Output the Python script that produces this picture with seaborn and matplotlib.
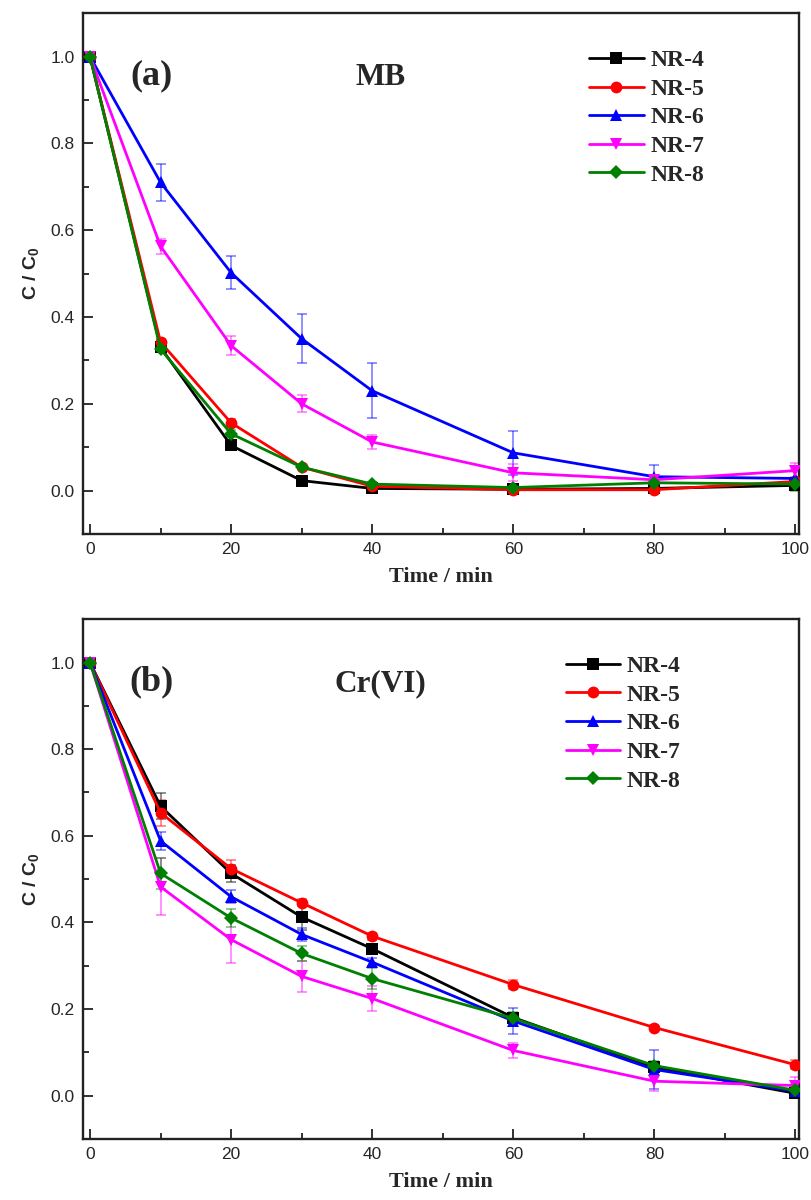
import numpy as np
import pandas as pd
import matplotlib
matplotlib.use("Agg")
import matplotlib.pyplot as plt
from matplotlib.ticker import MultipleLocator
import seaborn as sns

sns.set_theme(style="ticks")
plt.rcParams['font.family'] = ['Liberation Sans', 'DejaVu Sans']
plt.rcParams['mathtext.default'] = 'regular'

# время отбора проб, мин
time = [0, 10, 20, 30, 40, 60, 80, 100]
samples = ['NR-4', 'NR-5', 'NR-6', 'NR-7', 'NR-8']

# (a) MB, C/C0
mb_nr4 = [1.0, 0.330, 0.104, 0.023, 0.005, 0.003, 0.005, 0.012]
mb_nr5 = [1.0, 0.342, 0.156, 0.054, 0.010, 0.002, 0.002, 0.021]
mb_nr6 = [1.0, 0.710, 0.502, 0.350, 0.230, 0.087, 0.032, 0.028]
mb_nr7 = [1.0, 0.563, 0.334, 0.200, 0.112, 0.041, 0.025, 0.046]
mb_nr8 = [1.0, 0.326, 0.131, 0.054, 0.015, 0.007, 0.018, 0.015]
# погрешности MB
mb_err4 = [0, 0.005, 0.008, 0.005, 0.004, 0.003, 0.003, 0.010]
mb_err5 = [0, 0.008, 0.008, 0.005, 0.004, 0.003, 0.003, 0.010]
mb_err6 = [0, 0.043, 0.038, 0.057, 0.063, 0.050, 0.027, 0.020]
mb_err7 = [0, 0.017, 0.022, 0.020, 0.015, 0.020, 0.005, 0.018]
mb_err8 = [0, 0.005, 0.008, 0.005, 0.004, 0.003, 0.003, 0.015]

# (b) Cr(VI), C/C0
cr_nr4 = [1.0, 0.668, 0.513, 0.412, 0.339, 0.180, 0.065, 0.005]
cr_nr5 = [1.0, 0.653, 0.524, 0.445, 0.368, 0.256, 0.157, 0.071]
cr_nr6 = [1.0, 0.588, 0.459, 0.372, 0.308, 0.172, 0.060, 0.010]
cr_nr7 = [1.0, 0.482, 0.360, 0.275, 0.224, 0.104, 0.033, 0.023]
cr_nr8 = [1.0, 0.513, 0.410, 0.328, 0.270, 0.178, 0.069, 0.012]
# погрешности Cr(VI)
cr_err4 = [0, 0.030, 0.020, 0.030, 0.010, 0.010, 0.010, 0.005]
cr_err5 = [0, 0.030, 0.020, 0.008, 0.008, 0.010, 0.005, 0.010]
cr_err6 = [0, 0.020, 0.015, 0.015, 0.010, 0.030, 0.045, 0.010]
cr_err7 = [0, 0.066, 0.055, 0.036, 0.030, 0.017, 0.022, 0.020]
cr_err8 = [0, 0.035, 0.020, 0.018, 0.025, 0.015, 0.010, 0.010]

colors = ['black', '#FF0000', '#0000FF', '#FF00FF', '#008000']
markers = ['s', 'o', '^', 'v', 'D']
serif = ['Liberation Serif', 'DejaVu Serif']

fig = plt.figure(figsize=(8.11, 12), dpi=100)
ax_a = fig.add_axes([0.1023, 0.555, 0.8829, 0.434])
ax_b = fig.add_axes([0.1023, 0.051, 0.8829, 0.433])


def draw_panel(ax, series, errors, tag, title, leg_x):
    df = pd.DataFrame({
        'time': np.tile(time, len(samples)),
        'c': np.concatenate(series),
        'sample': np.repeat(samples, len(time)),
    })
    sns.lineplot(data=df, x='time', y='c', hue='sample', style='sample',
                 palette=dict(zip(samples, colors)),
                 markers=dict(zip(samples, markers)), dashes=False,
                 linewidth=2.0, markersize=8.5, markeredgewidth=0,
                 legend=False, ax=ax, zorder=3)
    lines = ax.get_lines()[:len(samples)]
    for ln, m in zip(lines, markers):
        if m == 'D':
            ln.set_markersize(7.5)
    for y, e, col in zip(series, errors, colors):
        ax.errorbar(time, y, yerr=e, fmt='none', ecolor=col, alpha=0.55,
                    elinewidth=1.1, capsize=3.8, capthick=1.1, zorder=2)

    ax.set_xlim(-1, 100.5)
    ax.set_ylim(-0.1, 1.1)
    ax.xaxis.set_major_locator(MultipleLocator(20))
    ax.xaxis.set_minor_locator(MultipleLocator(10))
    ax.set_yticks(np.arange(0, 1.01, 0.2))
    ax.yaxis.set_minor_locator(MultipleLocator(0.1))
    ax.tick_params(which='both', direction='in', top=False, right=False,
                   labelsize=12.5, pad=6, width=1.3, color='#222222')
    ax.tick_params(which='major', length=7)
    ax.tick_params(which='minor', length=4)
    for s in ax.spines.values():
        s.set_linewidth(1.7)
        s.set_color('#222222')

    ax.set_xlabel('Time / min', family=serif, fontweight='bold',
                  fontsize=16, labelpad=7)
    ax.set_ylabel('C / C$_0$', fontweight='bold', fontsize=14, labelpad=7)

    ax.text(8.7, 0.955, tag, family=serif, fontweight='bold', fontsize=26,
            ha='center', va='center')
    ax.text(41.2, 0.952, title, family=serif, fontweight='bold', fontsize=22.5,
            ha='center', va='center')

    ax.legend(lines, samples, loc='upper left', bbox_to_anchor=(leg_x, 0.93),
              frameon=False, borderpad=0, borderaxespad=0, handlelength=2.3,
              handletextpad=0.3, labelspacing=0.3,
              prop={'family': serif, 'weight': 'bold', 'size': 17})


draw_panel(ax_a, [mb_nr4, mb_nr5, mb_nr6, mb_nr7, mb_nr8],
           [mb_err4, mb_err5, mb_err6, mb_err7, mb_err8], '(a)', 'MB', 0.707)
draw_panel(ax_b, [cr_nr4, cr_nr5, cr_nr6, cr_nr7, cr_nr8],
           [cr_err4, cr_err5, cr_err6, cr_err7, cr_err8], '(b)', 'Cr(VI)', 0.674)

fig.savefig('out.png', dpi=100)
